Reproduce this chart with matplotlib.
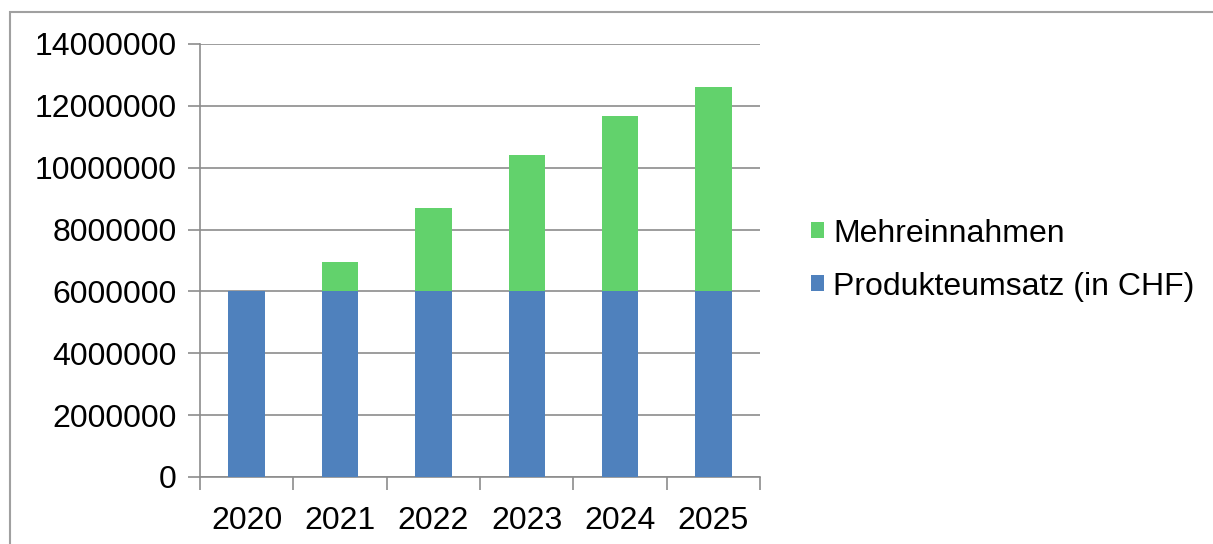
import matplotlib.pyplot as plt
from matplotlib.patches import Rectangle

plt.rcParams['font.family'] = ['Liberation Sans', 'DejaVu Sans']

# Data
years = ['2020', '2021', '2022', '2023', '2024', '2025']
produkt = [6000000, 6000000, 6000000, 6000000, 6000000, 6000000]
mehr = [0, 950000, 2700000, 4410000, 5670000, 6610000]

blue = '#4f81bd'
green = '#62d26c'
grid = '#8c8c8c'

fig = plt.figure(figsize=(12.13, 5.44), dpi=100)
ax = fig.add_axes([0.1649, 0.1232, 0.4617, 0.796])

x = range(len(years))
b1 = ax.bar(x, produkt, width=0.39, color=blue, zorder=3)
b2 = ax.bar(x, mehr, width=0.39, bottom=produkt, color=green, zorder=3)

ax.set_xlim(-0.5, len(years) - 0.5)
ax.set_ylim(0, 14000000)
ax.set_yticks(range(0, 14000001, 2000000))
ax.set_yticklabels([str(v) for v in range(0, 14000001, 2000000)])
ax.set_xticks(list(x))
ax.set_xticklabels(years)
ax.set_xticks([i - 0.5 for i in range(len(years) + 1)], minor=True)

ax.yaxis.grid(True, color=grid, linewidth=1.2, zorder=0)
ax.tick_params(axis='y', labelsize=23, length=9, color=grid, width=1.2, pad=8)
ax.tick_params(axis='x', which='major', labelsize=23, length=0, pad=21)
ax.tick_params(axis='x', which='minor', length=9, color=grid, width=1.2)

for s in ['top', 'right']:
    ax.spines[s].set_visible(False)
for s in ['left', 'bottom']:
    ax.spines[s].set_color(grid)
    ax.spines[s].set_linewidth(1.2)

fig.legend([b2, b1], ['Mehreinnahmen', 'Produkteumsatz (in CHF)'],
           loc='center left', bbox_to_anchor=(0.645, 0.522), frameon=False,
           fontsize=23, handlelength=0.4, handleheight=0.4,
           handletextpad=0.3, labelspacing=0.72)

# outer frame of the picture
fig.patches.append(Rectangle((10 / 1213, -0.1), 1.2, (532 / 544) + 0.1,
                             transform=fig.transFigure, fill=False,
                             edgecolor='#a0a0a0', linewidth=1.5))

fig.savefig('out.png', dpi=100)
